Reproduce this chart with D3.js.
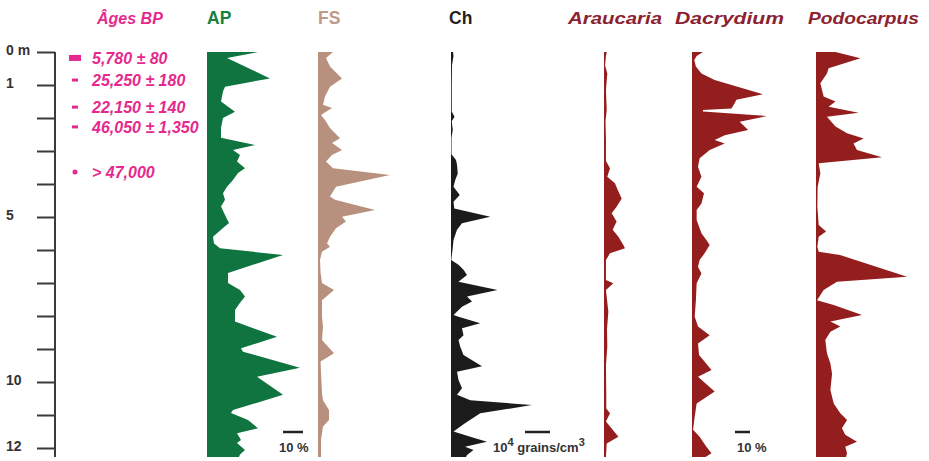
<!DOCTYPE html>
<html>
<head>
<meta charset="utf-8">
<script src="https://cdn.jsdelivr.net/npm/d3@7"></script>
<style>
  body { margin: 0; background: #fff; }
  text { font-family: "Liberation Sans", Arial, sans-serif; }
</style>
</head>
<body>
<div id="viz"></div>
<script>
const w = 929, h = 461;
const svg = d3.select("#viz")
  .append("svg")
  .attr("width", w)
  .attr("height", h);

// depth (m) , value
const AP = [[0,25.5],[0.18,10],[0.8,31.5],[1.05,9],[1.2,8],[1.5,7],[1.81,14],[2.0,8],[2.3,7],[2.6,7],[2.82,24],[2.97,13],[3.12,16.5],[3.32,15],[3.52,19],[3.67,15.5],[3.88,13],[4.08,10],[4.28,8],[4.48,9],[4.68,7],[4.94,9],[5.18,11],[5.33,8],[5.6,3],[5.8,3.5],[5.95,6.5],[6.15,38],[6.7,10.5],[7.0,10.5],[7.21,16.5],[7.41,19],[7.6,16.5],[7.82,14],[8.17,14],[8.63,35],[8.98,17],[9.08,18],[9.57,46.5],[9.84,25],[10.39,38],[10.85,13],[10.94,12],[11.15,20.5],[11.4,25.5],[11.55,15],[11.76,17],[11.85,15],[12.06,19],[12.2,16.5],[12.27,16]];
const FS = [[0,7.5],[0.18,4],[0.44,6],[0.8,12],[1.05,6],[1.35,3.5],[1.6,2.5],[1.7,7],[1.81,4],[1.91,1.5],[2.06,3.5],[2.3,6],[2.61,11],[2.76,7],[2.97,12],[3.12,7],[3.32,4],[3.52,7.5],[3.73,36],[4.08,9],[4.38,6],[4.48,8.5],[4.79,28.5],[4.99,12],[5.14,14],[5.34,9],[5.6,6],[5.8,4.5],[5.9,6],[6.05,2],[6.3,1],[6.7,1.3],[7.0,2],[7.21,8],[7.52,2],[8.02,2],[8.32,2.5],[8.73,2],[9.13,8],[9.38,1.3],[9.73,1.5],[10.34,2],[10.55,2.5],[10.85,5.5],[11.15,5.5],[11.35,2.5],[11.76,1.5],[12.27,1.5]];
const Ch = [[0,0.08],[0.12,0.1],[0.4,0.04],[1.0,0.03],[1.8,0.03],[1.96,0.14],[2.1,0.03],[2.36,0.07],[2.6,0.02],[3.1,0.02],[3.27,0.2],[3.42,0.24],[3.68,0.27],[3.88,0.17],[4.08,0.1],[4.33,0.35],[4.54,0.1],[4.74,0.13],[4.99,1.57],[5.19,0.44],[5.39,0.24],[5.7,0.1],[6.0,0.06],[6.3,0.01],[6.45,0.3],[6.6,0.5],[6.76,0.64],[6.96,0.3],[7.21,1.86],[7.41,0.64],[7.56,0.84],[7.72,0.44],[7.97,0.1],[8.02,0.3],[8.22,1.17],[8.37,0.44],[8.58,0.5],[8.73,0.3],[8.93,0.37],[9.18,0.5],[9.52,1.24],[9.69,0.24],[9.94,0.3],[10.19,0.44],[10.39,0.24],[10.55,0.77],[10.7,3.23],[10.95,1.17],[11.25,0.56],[11.5,0.1],[11.66,0.77],[11.81,1.44],[11.96,0.56],[12.06,0.9],[12.21,0.64],[12.27,0.6]];
const Araucaria = [[0,1.8],[0.12,1.3],[0.4,0.7],[0.65,2.2],[1.15,1.3],[1.76,1.8],[2.1,1.0],[2.67,1.3],[3.3,1.3],[3.52,4],[3.78,2.2],[3.98,7.3],[4.23,9.6],[4.44,11.8],[4.69,8.4],[4.89,5.1],[5.14,8.4],[5.39,5.8],[5.6,9.6],[5.85,12.9],[5.95,14],[6.1,4],[6.3,1.3],[6.91,1.3],[7.01,6.2],[7.21,1.3],[7.5,2],[7.87,2.9],[8.4,2],[8.93,2.2],[9.5,1.3],[10.3,1.5],[10.8,1.5],[10.95,4],[11.2,1.3],[11.66,9.6],[11.86,1.8],[12.27,1.3]];
const Dacrydium = [[0,7.3],[0.12,3.1],[0.24,1.5],[0.44,2.6],[0.65,6.3],[0.85,15.1],[1.28,47.3],[1.45,29.6],[1.55,28.4],[1.71,26.3],[1.76,7.3],[1.8,7.3],[1.94,50],[2.11,31.8],[2.36,37.4],[2.52,21.8],[2.67,15.1],[2.77,21.8],[2.97,11.8],[3.22,5.1],[3.48,4],[3.78,6.3],[4.08,3.1],[4.28,8],[4.59,6.3],[4.79,3.1],[5.09,3.1],[5.49,6.3],[5.7,9.6],[5.85,11.8],[6.1,8.4],[6.3,5.1],[6.51,4],[6.71,6.3],[7.01,3.1],[7.52,2.6],[8.02,1.8],[8.32,4],[8.58,11.8],[8.83,4],[9.18,4.7],[9.64,13],[9.84,4],[10.29,15.1],[10.65,3.1],[11.05,1.8],[11.45,0.7],[11.66,5.1],[11.96,9.6],[12.16,13],[12.27,9]];
const Podocarpus = [[0,13],[0.19,29.6],[0.49,8.4],[0.65,7.3],[0.95,2.9],[1.35,5.1],[1.5,13],[1.66,8.4],[1.84,28.4],[1.96,7.3],[2.26,13],[2.46,20.7],[2.62,31.8],[2.77,25],[2.97,27.3],[3.19,44],[3.37,1.8],[3.68,2.9],[4.08,1.1],[4.69,0.9],[5.24,1.8],[5.44,6.7],[5.6,1.8],[5.9,0.9],[6.05,1.8],[6.15,16],[6.81,60.7],[6.96,14],[7.21,5.1],[7.52,0.7],[7.67,11.8],[7.97,30.7],[8.17,9.6],[8.32,16.2],[8.48,9.6],[8.73,6.2],[9.13,7.3],[9.44,9.6],[9.75,10.7],[10.24,9.6],[10.65,11.8],[10.95,16.2],[11.15,20.7],[11.4,17.3],[11.6,19.5],[11.81,27.3],[11.96,19.5],[12.16,20.7],[12.27,20]];

// radiocarbon ages
const ageDepths = [0.18, 0.85, 1.67, 2.27, 3.64];
const ageLabels = ["5,780 \u00b1 80", "25,250 \u00b1 180", "22,150 \u00b1 140", "46,050 \u00b1 1,350", "> 47,000"];
const ageMarks = ["box", "dash", "dash", "dash", "dot"];

const depthTicks = d3.range(0, 13);
const depthLabels = { 0: "0 m", 1: "1", 5: "5", 10: "10", 12: "12" };
const depthMax = 12.27;

const pink = "#e5298e";
const red = "#941e1e";

const y = d3.scaleLinear().domain([0, 12]).range([52, 448]);

// columns: baseline, px per unit
const pct = (x0, pxPer10) => d3.scaleLinear().domain([0, 10]).range([x0, x0 + pxPer10]);
const columns = [
  { name: "AP", data: AP, x: pct(207, 20), fill: "#0f7440", title: "#17803f", italic: false, tx: 207 },
  { name: "FS", data: FS, x: pct(318, 20), fill: "#b8917e", title: "#c09a88", italic: false, tx: 318 },
  { name: "Ch", data: Ch, x: d3.scaleLinear().domain([0, 1]).range([451, 476]), fill: "#1b1b1b", title: "#222", italic: false, tx: 449 },
  { name: "Araucaria", data: Araucaria, x: pct(604, 15), fill: red, title: "#8c2230", italic: true, tx: 568, tl: 94 },
  { name: "Dacrydium", data: Dacrydium, x: pct(692, 15), fill: red, title: "#8c2230", italic: true, tx: 675, tl: 109 },
  { name: "Podocarpus", data: Podocarpus, x: pct(816, 15), fill: red, title: "#8c2230", italic: true, tx: 808, tl: 111 }
];

columns.forEach(c => {
  const area = d3.area()
    .y(d => y(d[0]))
    .x0(c.x(0))
    .x1(d => c.x(d[1]));
  svg.append("path")
    .datum(c.data)
    .attr("d", area)
    .attr("fill", c.fill);

  const t = svg.append("text")
    .attr("x", c.tx)
    .attr("y", 24)
    .attr("fill", c.title)
    .style("font-weight", "bold")
    .style("font-size", c.italic ? "16.5px" : "17.5px")
    .style("font-style", c.italic ? "italic" : "normal")
    .text(c.name);
  if (c.tl) t.attr("textLength", c.tl).attr("lengthAdjust", "spacingAndGlyphs");
});

// depth axis
const axis = svg.append("g")
  .attr("transform", "translate(55,0)")
  .call(d3.axisLeft(y).tickValues(depthTicks).tickSize(18).tickSizeOuter(0)
    .tickFormat(d => depthLabels[d] || ""));
axis.select(".domain").remove();
axis.selectAll(".tick line").attr("stroke", "#3a3a3a").attr("stroke-width", 2);
axis.selectAll(".tick text")
  .attr("x", -49)
  .attr("dy", "0.2em")
  .attr("text-anchor", "start")
  .attr("fill", "#333")
  .style("font-family", "'Liberation Sans', Arial, sans-serif")
  .style("font-size", "14px")
  .style("font-weight", "bold");
axis.append("line")
  .attr("y1", y(0))
  .attr("y2", y(depthMax))
  .attr("stroke", "#3a3a3a")
  .attr("stroke-width", 2);

// ages
svg.append("text")
  .attr("x", 97).attr("y", 24)
  .attr("fill", pink)
  .style("font-weight", "bold").style("font-style", "italic").style("font-size", "16px")
  .text("\u00c2ges BP");

ageDepths.forEach((d, i) => {
  const yy = y(d);
  if (ageMarks[i] === "box") {
    svg.append("rect").attr("x", 69).attr("y", yy - 3).attr("width", 12).attr("height", 6).attr("fill", pink);
  } else if (ageMarks[i] === "dash") {
    svg.append("rect").attr("x", 72).attr("y", yy - 1.5).attr("width", 6).attr("height", 3).attr("fill", pink);
  } else {
    svg.append("circle").attr("cx", 75).attr("cy", yy).attr("r", 2.5).attr("fill", pink);
  }
  svg.append("text")
    .attr("x", 92).attr("y", yy).attr("dy", "0.36em")
    .attr("fill", pink)
    .style("font-weight", "bold").style("font-style", "italic").style("font-size", "16px")
    .text(ageLabels[i]);
});

// scale bars
const bar = (x0, len, yy) => svg.append("line")
  .attr("x1", x0).attr("x2", x0 + len)
  .attr("y1", yy).attr("y2", yy)
  .attr("stroke", "#222").attr("stroke-width", 2.5);
const ap = columns[0].x, chx = columns[2].x, con = columns[3].x;
bar(283, ap(10) - ap(0), 432);
bar(525, chx(1) - chx(0), 432);
bar(735, con(10) - con(0), 432);

const scaleText = svg.append("g")
  .attr("fill", "#333")
  .style("font-weight", "bold")
  .style("font-size", "13px");
scaleText.append("text").attr("x", 279).attr("y", 452).text("10 %");
scaleText.append("text").attr("x", 737).attr("y", 452).text("10 %");
const gt = scaleText.append("text").attr("x", 493).attr("y", 452);
gt.append("tspan").text("10");
gt.append("tspan").attr("dy", -6).style("font-size", "11px").text("4");
gt.append("tspan").attr("dy", 6).text(" grains/cm");
gt.append("tspan").attr("dy", -6).style("font-size", "11px").text("3");
</script>
</body>
</html>
